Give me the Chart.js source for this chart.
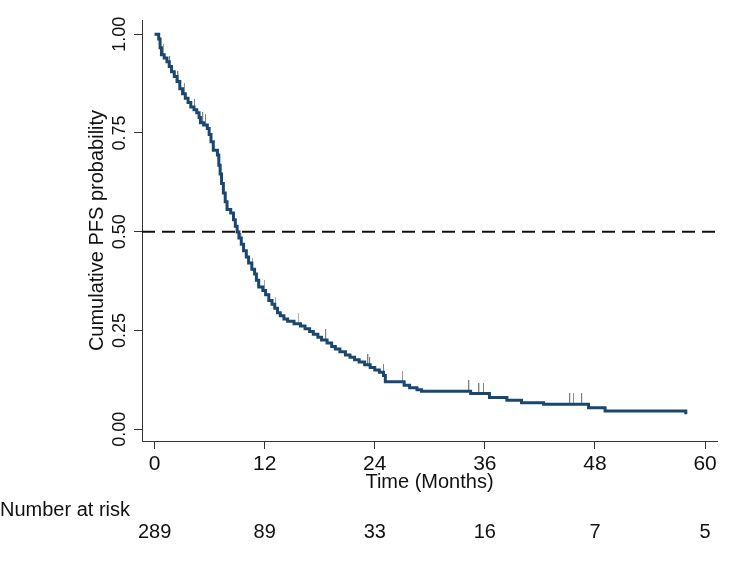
<!DOCTYPE html>
<html>
<head>
<meta charset="utf-8">
<title>Cumulative PFS probability</title>
<script src="https://cdn.jsdelivr.net/npm/chart.js@4.4.1/dist/chart.umd.min.js"></script>
<style>
  html, body { margin: 0; padding: 0; background: #fff; }
  #wrap { width: 740px; height: 562px; }
</style>
</head>
<body>
<div id="wrap"><canvas id="kmChart" width="740" height="562"></canvas></div>
<script>
/* ---- data ---- */
// Kaplan-Meier steps: time (months) and survival after the step
const stepTimes = [
  0, 0.45, 0.6, 0.75, 1.05, 1.35, 1.6, 1.85, 2.15, 2.45, 2.75, 3.05, 3.35, 3.65,
  3.95, 4.3, 4.6, 4.85, 5.0, 5.35, 5.75, 5.95, 6.15, 6.4, 6.85, 7.0, 7.15, 7.3,
  7.5, 7.7, 7.9, 8.3, 8.6, 8.8, 9.0, 9.2, 9.45, 9.7, 10.0, 10.25, 10.6, 10.9,
  11.1, 11.35, 11.8, 12.1, 12.45, 12.8, 13.1, 13.4, 13.7, 14.1, 14.5, 15.2, 15.9,
  16.4, 16.9, 17.3, 17.8, 18.2, 18.8, 19.3, 19.7, 20.2, 20.8, 21.3, 21.8, 22.3,
  22.9, 23.5, 24.0, 24.5, 24.95, 25.15, 27.2, 27.8, 28.6, 29.1, 34.45, 36.5,
  38.4, 40.0, 42.4, 47.3, 49.1, 57.9
];
const stepSurv = [
  1.0, 0.988, 0.966, 0.948, 0.94, 0.93, 0.918, 0.905, 0.893, 0.88, 0.862, 0.849, 0.838, 0.827,
  0.816, 0.809, 0.801, 0.789, 0.776, 0.77, 0.761, 0.746, 0.728, 0.706, 0.694, 0.668, 0.646, 0.622,
  0.598, 0.576, 0.556, 0.547, 0.53, 0.514, 0.499, 0.484, 0.468, 0.452, 0.436, 0.421, 0.405, 0.393,
  0.377, 0.36, 0.351, 0.34, 0.326, 0.316, 0.306, 0.295, 0.287, 0.279, 0.273, 0.267, 0.261,
  0.254, 0.247, 0.24, 0.233, 0.226, 0.218, 0.209, 0.203, 0.196, 0.188, 0.182, 0.176, 0.17,
  0.163, 0.156, 0.15, 0.144, 0.136, 0.12, 0.111, 0.105, 0.1, 0.096, 0.09, 0.08,
  0.073, 0.067, 0.063, 0.054, 0.046, 0.038
];
// censored observations (months)
const censorTimes = [
  0.6, 1.0, 1.7, 2.6, 3.3, 4.4, 5.3, 5.6, 9.45, 10.7, 12.0, 13.2, 15.7, 18.7,
  23.3, 23.5, 25.0, 27.05, 34.3, 35.4, 35.9, 45.3, 45.7, 46.6
];
const xTickValues = [0, 12, 24, 36, 48, 60];
const yTickValues = [0, 0.25, 0.5, 0.75, 1];
const yTickLabels = ["0.00", "0.25", "0.50", "0.75", "1.00"];
const riskTimes = [0, 12, 24, 36, 48, 60];
const riskCounts = [289, 89, 33, 16, 7, 5];
const medianLevel = 0.5;
const xRange = [-1.37, 61.3];
const yRange = [-0.03, 1.036];

const NARROW = '"Liberation Sans Narrow", "Liberation Sans", Arial, sans-serif';
const REGULAR = '"Liberation Sans", Arial, sans-serif';

// survival at time t from the step function
function survAt(t) {
  let s = stepSurv[0];
  for (let i = 0; i < stepTimes.length; i++) {
    if (stepTimes[i] <= t) s = stepSurv[i];
  }
  return s;
}

// small gray tick drawn upward from the curve
function makeCensorMark() {
  const c = document.createElement("canvas");
  c.width = 2;
  c.height = 22;
  const g = c.getContext("2d");
  g.fillStyle = "#808080";
  g.fillRect(0, 0, 1, 11);
  return c;
}

// rotated y tick labels + number-at-risk table
const extraTextPlugin = {
  id: "extraText",
  afterDraw(chart) {
    const ctx = chart.ctx;
    const xs = chart.scales.x;
    const ys = chart.scales.y;
    ctx.save();
    ctx.fillStyle = "#111";
    ctx.font = "18px " + REGULAR;
    ctx.textAlign = "center";
    ctx.textBaseline = "middle";
    yTickValues.forEach((v, i) => {
      ctx.save();
      ctx.translate(ys.right - 22, ys.getPixelForValue(v));
      ctx.rotate(-Math.PI / 2);
      ctx.fillText(yTickLabels[i], 0, 0);
      ctx.restore();
    });

    ctx.font = "20px " + NARROW;
    ctx.textAlign = "left";
    ctx.fillText("Number at risk", 0, 510);
    ctx.textAlign = "center";
    riskTimes.forEach((t, i) => {
      ctx.fillText(String(riskCounts[i]), xs.getPixelForValue(t), 532);
    });
    ctx.restore();
  },
};

const curveData = stepTimes.map((t, i) => ({ x: t, y: stepSurv[i] }));
const censorData = censorTimes.map((t) => ({ x: t, y: survAt(t) }));
const medianData = [
  { x: xRange[0], y: medianLevel },
  { x: xRange[1], y: medianLevel },
];

new Chart(document.getElementById("kmChart"), {
  type: "line",
  data: {
    datasets: [
      {
        data: curveData,
        stepped: true,
        borderColor: "#1a476f",
        borderWidth: 3,
        pointRadius: 0,
        fill: false,
        order: 1,
      },
      {
        data: censorData,
        showLine: false,
        pointStyle: makeCensorMark(),
        pointRadius: 5,
        order: 2,
      },
      {
        data: medianData,
        borderColor: "#111",
        borderWidth: 2,
        borderDash: [13, 7],
        pointRadius: 0,
        fill: false,
        order: 3,
      },
    ],
  },
  options: {
    responsive: false,
    animation: false,
    events: [],
    layout: { padding: { left: 0, right: 23, top: 20, bottom: 0 } },
    plugins: { legend: { display: false }, tooltip: { enabled: false } },
    scales: {
      x: {
        type: "linear",
        min: xRange[0],
        max: xRange[1],
        afterBuildTicks: (scale) => {
          scale.ticks = xTickValues.map((v) => ({ value: v }));
        },
        afterFit: (scale) => {
          scale.height = 121;
        },
        grid: {
          drawOnChartArea: false,
          drawTicks: true,
          tickLength: 8,
          color: "#333",
          lineWidth: 1,
        },
        border: { color: "#333", width: 1 },
        ticks: {
          color: "#111",
          padding: 3,
          maxRotation: 0,
          font: { family: NARROW, size: 21, lineHeight: 1.2 },
        },
        title: {
          display: true,
          text: "Time (Months)",
          color: "#111",
          font: { family: NARROW, size: 20, lineHeight: 1.2 },
          padding: { top: 0, bottom: 68 },
        },
      },
      y: {
        type: "linear",
        min: yRange[0],
        max: yRange[1],
        afterBuildTicks: (scale) => {
          scale.ticks = yTickValues.map((v) => ({ value: v }));
        },
        afterFit: (scale) => {
          scale.width = 142;
        },
        grid: {
          drawOnChartArea: false,
          drawTicks: true,
          tickLength: 8,
          color: "#333",
          lineWidth: 1,
        },
        border: { color: "#333", width: 1 },
        ticks: { display: false },
        title: {
          display: true,
          text: "Cumulative PFS probability",
          color: "#111",
          font: { family: REGULAR, size: 20, lineHeight: 1.2 },
          padding: { top: 85, bottom: 0 },
        },
      },
    },
  },
  plugins: [extraTextPlugin],
});
</script>
</body>
</html>
